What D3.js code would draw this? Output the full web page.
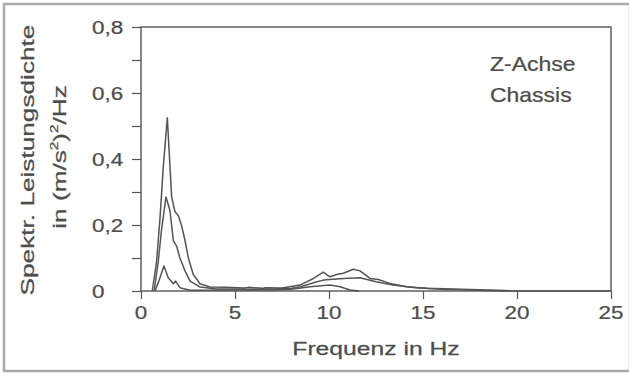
<!DOCTYPE html>
<html>
<head>
<meta charset="utf-8">
<script src="https://cdn.jsdelivr.net/npm/d3@7"></script>
<style>
  body { margin: 0; background: #fff; }
  text { font-family: "Liberation Sans", Arial, sans-serif; fill: #4d4d4d; stroke: #4d4d4d; stroke-width: 0.25; }
</style>
</head>
<body>
<div id="chart"></div>
<script>
(function () {
  const W = 629, H = 374;
  const margin = { top: 27, right: 18, bottom: 83, left: 141 };
  const width = W - margin.left - margin.right,
    height = H - margin.top - margin.bottom;

  // spectra (frequency in Hz, PSD in (m/s²)²/Hz)
  const freqA = [0.6, 0.83, 1.01, 1.19, 1.4, 1.63, 1.81, 1.99, 2.16, 2.34, 2.52, 2.78, 3.14, 3.67, 4.5, 5.5, 5.7, 6.5, 6.6, 7.5, 8.46, 9.17, 9.7, 10.05, 10.4, 10.76, 11.29, 11.65, 12.18, 12.62, 13.24, 14.13, 15.2, 17, 19, 20, 25];
  const psdA  = [0, 0.09, 0.22, 0.38, 0.525, 0.285, 0.24, 0.228, 0.198, 0.153, 0.1, 0.05, 0.022, 0.012, 0.011, 0.009, 0.011, 0.008, 0.01, 0.009, 0.018, 0.038, 0.057, 0.043, 0.05, 0.054, 0.066, 0.061, 0.038, 0.035, 0.023, 0.013, 0.008, 0.005, 0.002, 0, 0];

  const freqB = [0.7, 0.92, 1.1, 1.33, 1.54, 1.72, 1.9, 2.07, 2.34, 2.61, 3.14, 4.03, 5, 6, 7, 8, 8.5, 9.17, 9.7, 10.76, 11.65, 12.5, 13.4, 14.6, 16, 18, 19.5];
  const psdB  = [0, 0.09, 0.19, 0.285, 0.244, 0.153, 0.135, 0.1, 0.061, 0.03, 0.012, 0.006, 0.006, 0.005, 0.006, 0.008, 0.013, 0.025, 0.033, 0.038, 0.04, 0.028, 0.018, 0.01, 0.005, 0.002, 0];

  const freqC = [0.74, 0.95, 1.22, 1.45, 1.72, 1.84, 2.07, 2.6, 3.5, 5, 6, 7, 8, 8.99, 10.05, 10.59, 11.12, 11.6];
  const psdC  = [0, 0.03, 0.076, 0.04, 0.022, 0.03, 0.01, 0.002, 0.002, 0.003, 0.003, 0.003, 0.005, 0.013, 0.018, 0.013, 0.003, 0];

  const xTicks = [0, 5, 10, 15, 20, 25];
  const yTicks = [0, 0.1, 0.2, 0.3, 0.4, 0.5, 0.6, 0.7, 0.8];
  const yLabels = [0, 0.2, 0.4, 0.6, 0.8];

  const x = d3.scaleLinear().domain([0, 25]).range([0, width]);
  const y = d3.scaleLinear().domain([0, 0.8]).range([height, 0]);

  const ink = "#555";
  const fmt = d => d === 0 ? "0" : d3.format(".1f")(d).replace(".", ",");

  const root = d3.select("#chart").append("svg")
    .attr("width", W)
    .attr("height", H);

  // outer frame of the figure
  root.append("rect")
    .attr("x", 4).attr("y", 4)
    .attr("width", 626).attr("height", 367)
    .attr("fill", "none")
    .attr("stroke", "#aaa")
    .attr("stroke-width", 2.5);

  const svg = root.append("g")
    .attr("transform", "translate(" + margin.left + "," + margin.top + ")");

  // ticks
  svg.append("g")
    .call(d3.axisLeft(y).tickValues(yTicks).tickSize(9).tickFormat("").tickSizeOuter(0))
    .call(g => g.select(".domain").remove())
    .call(g => g.selectAll("line").attr("stroke", ink).attr("stroke-width", 1.2));

  svg.append("g")
    .attr("transform", "translate(0," + height + ")")
    .call(d3.axisBottom(x).tickValues(xTicks).tickSize(8).tickFormat("").tickSizeOuter(0))
    .call(g => g.select(".domain").remove())
    .call(g => g.selectAll("line").attr("stroke", ink).attr("stroke-width", 1.2));

  // plot box
  svg.append("rect")
    .attr("width", width).attr("height", height)
    .attr("fill", "none")
    .attr("stroke", ink)
    .attr("stroke-width", 1.4);

  // stretched text helper (the original lettering is wide)
  function label(parent, tx, ty, str, opt) {
    const o = Object.assign({ size: 17, sx: 1.3, rot: 0, anchor: "start" }, opt);
    return parent.append("text")
      .attr("transform", "translate(" + tx + "," + ty + ")" + (o.rot ? " rotate(" + o.rot + ")" : "") + " scale(" + o.sx + ",1)")
      .attr("text-anchor", o.anchor)
      .attr("font-size", o.size)
      .text(str);
  }

  yLabels.forEach(d => label(svg, -49, y(d) + 7, fmt(d), { size: 19, sx: 1.18 }));
  xTicks.forEach(d => label(svg, x(d), height + 28, d, { size: 19, sx: 1.18, anchor: "middle" }));

  label(svg, width / 2, height + 64, "Frequenz in Hz", { size: 19, sx: 1.3, anchor: "middle" });
  label(root, 34, 160, "Spektr. Leistungsdichte", { size: 19, sx: 1.38, rot: -90, anchor: "middle" });
  const yt = root.append("text")
    .attr("transform", "translate(66,157) rotate(-90) scale(1.38,1)")
    .attr("text-anchor", "middle")
    .attr("font-size", 19);
  yt.append("tspan").text("in (m/s");
  yt.append("tspan").attr("font-size", 11).attr("dy", -8).text("2");
  yt.append("tspan").attr("dy", 8).text(")");
  yt.append("tspan").attr("font-size", 11).attr("dy", -8).text("2");
  yt.append("tspan").attr("dy", 8).text("/Hz");

  label(svg, 349, 44, "Z-Achse", { size: 20.5, sx: 1.12 });
  label(svg, 349, 75, "Chassis", { size: 20.5, sx: 1.12 });

  // spectra
  const line = d3.line()
    .x(d => x(d[0]))
    .y(d => y(d[1]));

  const series = [[freqA, psdA], [freqB, psdB], [freqC, psdC]];
  svg.selectAll("path.psd")
    .data(series)
    .join("path")
    .attr("class", "psd")
    .attr("d", s => line(d3.zip(s[0], s[1])))
    .attr("fill", "none")
    .attr("stroke", ink)
    .attr("stroke-width", 1.5)
    .attr("stroke-linejoin", "round");
})();
</script>
</body>
</html>
